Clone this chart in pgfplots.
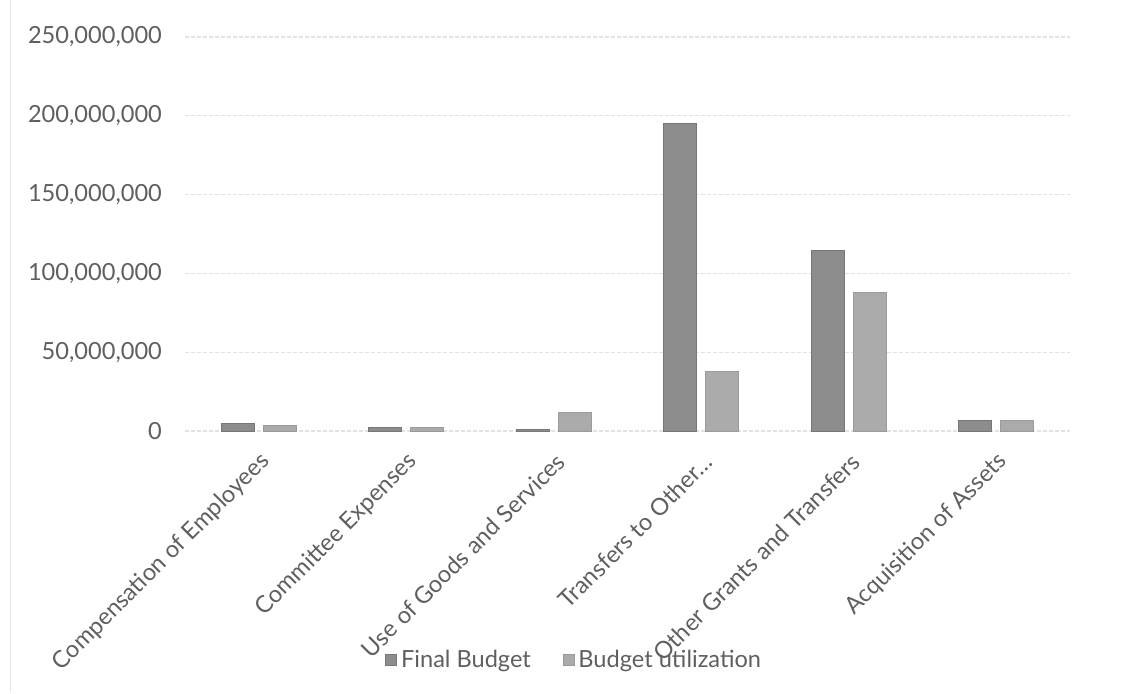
\documentclass[border=0pt]{standalone}
\usepackage{pgfplots}
\pgfplotsset{compat=1.18}
\usepackage{fontspec}
\setmainfont{Lato}
\definecolor{txt}{HTML}{5F5F5F}
\definecolor{finalc}{HTML}{8C8C8C}
\definecolor{utilc}{HTML}{ABABAB}
\definecolor{gridc}{HTML}{E2E2E2}
\newcommand{\lblfont}{\fontsize{11.8}{14}\selectfont}
\begin{document}
\begin{tikzpicture}
\path[use as bounding box] (0,0) rectangle (561.5pt,346.5pt);
\draw[gray!18] (5pt,0) -- (5pt,346.5pt);
\begin{axis}[
  at={(92.5pt,131pt)}, anchor=south west,
  scale only axis, width=442.5pt, height=197pt,
  ybar=4.5pt, bar width=16.5pt,
  xmin=-0.5, xmax=5.5, ymin=0, ymax=250000000,
  ytick={0,50000000,100000000,150000000,200000000,250000000},
  scaled y ticks=false,
  /pgf/number format/fixed,
  /pgf/number format/1000 sep={,},
  /pgf/number format/assume math mode=true,
  yticklabel style={font=\lblfont, text=txt, xshift=-8pt},
  xtick=data,
  xticklabels={Compensation of Employees, Committee Expenses, Use of Goods and Services, Transfers to Other\ldots, Other Grants and Transfers, Acquisition of Assets},
  xticklabel style={rotate=45, anchor=east, font=\lblfont, text=txt, xshift=-3.5pt, yshift=-12pt},
  axis line style={draw=none},
  major tick length=0pt,
  ymajorgrids, major grid style={gridc, line width=0.6pt, dash pattern=on 2pt off 1pt},
  legend columns=2,
  legend style={at={(0.441,-0.581)}, anchor=center, draw=none, fill=none,
    font=\lblfont, text=txt, /tikz/every even column/.append style={column sep=14pt}},
  legend image code/.code={\fill[#1] (0pt,-2.7pt) rectangle (5.4pt,2.7pt);},
]
\addplot[fill=finalc, draw=finalc!85!black] coordinates {(0,4900000) (1,2300000) (2,1200000) (3,195200000) (4,114800000) (5,6500000)};
\addplot[fill=utilc, draw=utilc!90!black] coordinates {(0,3600000) (1,2000000) (2,11900000) (3,37600000) (4,88000000) (5,6500000)};
\legend{Final Budget, Budget utilization}
\end{axis}
\end{tikzpicture}
\end{document}
